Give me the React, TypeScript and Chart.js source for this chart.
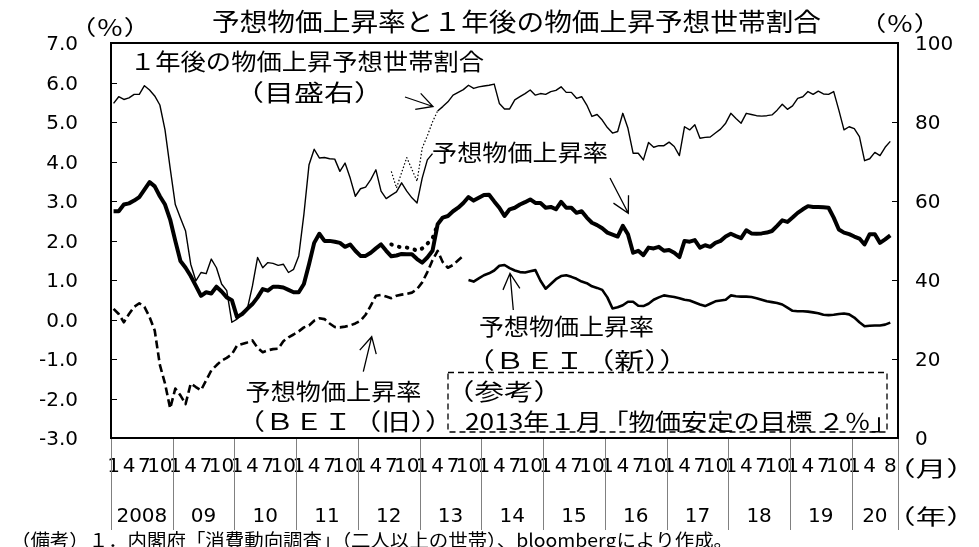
import React, { useEffect, useRef } from 'react';
import { Chart, registerables } from 'chart.js';

Chart.register(...registerables);

// ---------- categories ----------
const yearLabels = ['2008', '09', '10', '11', '12', '13', '14', '15', '16', '17', '18', '19', '20'];
const monthsPerYear = [12, 12, 12, 12, 12, 12, 12, 12, 12, 12, 12, 12, 9];
const monthTickLabels = ['1', '', '', '4', '', '', '7', '', '', '10', '', ''];
const monthTickLabels2020 = ['1', '', '', '4', '', '', '', '8', ''];

const categories: string[] = [];
const monthTicks: string[] = [];
yearLabels.forEach((_, k) => {
  for (let m = 0; m < monthsPerYear[k]; m++) {
    categories.push(`${2008 + k}/${m + 1}`);
    monthTicks.push(k === 12 ? monthTickLabels2020[m] : monthTickLabels[m]);
  }
});
const N = categories.length;

// ---------- series (start index, values) ----------
// 1年後の物価上昇予想世帯割合（右目盛, %）
const householdShareStart = 0;
const householdShare = [
  84.7, 86.4, 85.7, 86.1, 87.0, 87.0, 89.2, 88.1, 86.6, 84.3,
  78.0, 68.3, 59.1, 55.7, 52.4, 44.0, 39.8, 41.9, 41.6, 45.3,
  43.1, 39.0, 37.3, 29.3, 30.1, 31.4, 32.7, 38.5, 45.7, 43.1,
  44.4, 44.2, 43.7, 44.0, 41.9, 42.7, 46.1, 56.6, 69.2, 73.1,
  70.9, 71.0, 70.7, 70.6, 67.5, 69.6, 65.8, 61.2, 63.1, 63.5,
  65.4, 67.9, 62.5, 60.6, 61.5, 62.3, 64.6, 62.5, 60.8, 59.5,
  65.8, 70.4, 72.0,
];
const householdShareNewStart = 63;
const householdShareNew = [
  82.8, 83.9, 85.1, 86.8, 87.5, 88.2, 89.3, 88.5, 88.9, 89.1,
  89.3, 89.6, 84.7, 83.3, 83.3, 85.6, 86.4, 87.2, 88.1, 86.8,
  87.2, 87.0, 87.7, 88.0, 88.9, 87.5, 87.5, 86.0, 86.4, 84.3,
  81.4, 81.9, 80.5, 78.6, 77.2, 77.6, 82.2,
  78.4, 72.1, 72.1, 70.4, 74.8, 73.6, 74.0, 74.0, 74.9, 73.8,
  71.5, 78.8, 78.0, 79.3, 75.9, 76.1, 76.2, 77.2, 78.2, 79.7,
  82.2, 80.9, 79.7, 82.2, 81.9, 81.6, 81.5, 81.6, 81.8, 83.0,
  84.5, 83.2, 84.1, 86.0, 86.4, 87.7, 87.0, 87.8, 87.1, 87.0,
  87.7, 83.0, 78.0, 78.8, 78.3, 76.3, 70.2, 70.7, 72.3, 71.5,
  73.6, 75.1,
];
const householdShareAltStart = 54;
const householdShareAlt = [67.5, 63.3, 67.2, 71.0, 68.0, 65.0, 73.4, 76.5, 80.0, 82.8];

// 予想物価上昇率（左目盛, %）
const expectedInflationStart = 0;
const expectedInflation = [
  2.74, 2.74, 2.91, 2.94, 3.01, 3.10, 3.29, 3.48, 3.37, 3.12,
  2.91, 2.53, 1.99, 1.48, 1.31, 1.10, 0.85, 0.60, 0.69, 0.66,
  0.83, 0.71, 0.56, 0.49, 0.06, 0.14, 0.27, 0.39, 0.56, 0.77,
  0.73, 0.83, 0.83, 0.81, 0.75, 0.69, 0.69, 0.90, 1.40, 1.94,
  2.17, 1.99, 1.99, 1.97, 1.94, 1.84, 1.90, 1.74, 1.61, 1.61,
  1.69, 1.80, 1.90, 1.74, 1.60, 1.62, 1.66, 1.65, 1.65, 1.53,
  1.44, 1.57, 1.74,
  2.41, 2.58, 2.62, 2.74, 2.83, 2.95, 3.10, 3.01, 3.08, 3.15,
  3.16, 2.99, 2.83, 2.62, 2.79, 2.83, 2.91, 2.97, 3.04, 2.95,
  2.95, 2.83, 2.85, 2.79, 2.98, 2.83, 2.83, 2.70, 2.74, 2.58,
  2.45, 2.39, 2.31, 2.20, 2.15, 2.10, 2.37, 2.16, 1.69,
  1.74, 1.63, 1.82, 1.80, 1.84, 1.74, 1.76, 1.69, 1.58, 1.99,
  1.97, 2.01, 1.82, 1.88, 1.84, 1.94, 1.99, 2.10, 2.17, 2.11,
  2.06, 2.26, 2.18, 2.17, 2.18, 2.20, 2.24, 2.37, 2.51, 2.47,
  2.58, 2.70, 2.79, 2.87, 2.85, 2.85, 2.84, 2.83, 2.58, 2.28,
  2.20, 2.16, 2.10, 2.05, 1.90, 2.16, 2.16, 1.94, 2.03, 2.13,
];
const expectedInflationAltStart = 54;
const expectedInflationAlt = [1.90, 1.86, 1.82, 1.82, 1.80, 1.74, 1.80, 1.92, 2.05, 2.41];

// 予想物価上昇率（ＢＥＩ（旧））
const beiOldStart = 0;
const beiOld = [
  0.27, 0.14, -0.07, 0.14, 0.32, 0.41, 0.32, 0.06, -0.28, -1.15,
  -1.62, -2.25, -1.75, -1.92, -2.14, -1.62, -1.71, -1.79, -1.54, -1.29,
  -1.16, -1.04, -0.97, -0.88, -0.66, -0.62, -0.58, -0.53, -0.72, -0.83,
  -0.78, -0.75, -0.74, -0.55, -0.45, -0.38, -0.30, -0.20, -0.15, -0.03,
  0.03, 0.01, -0.10, -0.19, -0.20, -0.18, -0.15, -0.10, -0.03, 0.12,
  0.35, 0.60, 0.62, 0.58, 0.54, 0.60, 0.63, 0.65, 0.68, 0.77,
  0.94, 1.20, 1.50, 1.74, 1.45, 1.31, 1.38, 1.50, 1.61,
];
// 予想物価上昇率（ＢＥＩ（新））
const beiNewStart = 69;
const beiNew = [
  1.00, 0.96, 1.04, 1.12, 1.17, 1.24, 1.36, 1.38, 1.30, 1.24,
  1.20, 1.19, 1.22, 1.25, 0.98, 0.78, 0.90, 1.02, 1.10, 1.12,
  1.08, 1.03, 0.96, 0.92, 0.84, 0.80, 0.75, 0.56, 0.28, 0.31,
  0.36, 0.45, 0.45, 0.35, 0.34, 0.40, 0.50, 0.56, 0.61, 0.59,
  0.57, 0.54, 0.50, 0.48, 0.43, 0.38, 0.34, 0.40, 0.46, 0.48,
  0.50, 0.61, 0.59, 0.58, 0.58, 0.57, 0.54, 0.50, 0.46, 0.44,
  0.42, 0.38, 0.30, 0.22, 0.21, 0.21, 0.20, 0.18, 0.16, 0.12,
  0.11, 0.12, 0.14, 0.15, 0.13, 0.05, -0.07, -0.17, -0.16, -0.15,
  -0.15, -0.13, -0.08,
];

// axis ticks
const leftTicks = { min: -3, max: 7, step: 1 };
const rightTicks = { min: 0, max: 100, step: 20 };

function place(start: number, values: number[]) {
  const out: (number | null)[] = new Array(N).fill(null);
  values.forEach((v, i) => { out[start + i] = v; });
  return out;
}

// year spans for the two-level axis
const yearStarts: number[] = [];
const yearCenters: number[] = [];
{
  let s = 0;
  monthsPerYear.forEach((len) => {
    yearStarts.push(s);
    yearCenters.push(s + (len - 1) / 2);
    s += len;
  });
  yearStarts.push(s);
}

// ---------- annotations ----------
const JP = '"Noto Sans CJK JP", "Noto Sans CJK SC", sans-serif';
const notes = [
  { text: '予想物価上昇率と１年後の物価上昇予想世帯割合', x: 516.5, y: 21, size: 25, w: 609 },
  { text: '（％）', x: 110, y: 27, size: 21, w: 82 },
  { text: '（％）', x: 900, y: 23, size: 21, w: 82 },
  { text: '１年後の物価上昇予想世帯割合', x: 307, y: 61, size: 23, w: 354 },
  { text: '（目盛右）', x: 309, y: 92, size: 23, w: 150 },
  { text: '予想物価上昇率', x: 520, y: 152, size: 23, w: 176 },
  { text: '予想物価上昇率', x: 566.5, y: 326, size: 23, w: 175 },
  { text: '（ＢＥＩ（新））', x: 577, y: 360.5, size: 23, w: 224 },
  { text: '予想物価上昇率', x: 333.5, y: 391, size: 23, w: 176 },
  { text: '（ＢＥＩ（旧））', x: 345, y: 421, size: 23, w: 218 },
  { text: '（参考）', x: 504, y: 391, size: 23, w: 118 },
  { text: '2013年１月「物価安定の目標 ２％」', x: 681, y: 421, size: 23, w: 432 },
  { text: '（月）', x: 931, y: 468.5, size: 21, w: 92 },
  { text: '（年）', x: 931, y: 516.5, size: 21, w: 92 },
  { text: '（備考）１．内閣府「消費動向調査」（二人以上の世帯）、bloombergにより作成。', x: 372, y: 540, size: 18, w: 722 },
];
const arrows = [
  { from: [405, 97], to: [433, 106.5] },
  { from: [610, 178], to: [628.3, 213.3] },
  { from: [513.3, 310], to: [510, 273.3] },
  { from: [363.3, 371.7], to: [371.7, 336.7] },
];
const referenceBox = { x: 448, y: 372.5, w: 439, h: 59.5 };

const decorPlugin = {
  id: 'decor',
  afterDraw(chart: any) {
    const { ctx, chartArea: a, scales } = chart;
    const xs = scales.x;
    const half = (xs.getPixelForValue(1) - xs.getPixelForValue(0)) / 2;
    ctx.save();
    // year separators below the plot
    ctx.strokeStyle = '#808080';
    ctx.lineWidth = 1;
    yearStarts.forEach((b) => {
      const px = Math.round(xs.getPixelForValue(b) - half) + 0.5;
      ctx.beginPath();
      ctx.moveTo(px, a.bottom);
      ctx.lineTo(px, 530);
      ctx.stroke();
    });
    // inner tick marks
    ctx.strokeStyle = '#000';
    ctx.lineWidth = 1;
    scales.y.ticks.forEach((t: any) => {
      const py = Math.round(scales.y.getPixelForValue(t.value)) + 0.5;
      ctx.beginPath();
      ctx.moveTo(a.left, py);
      ctx.lineTo(a.left + 6, py);
      ctx.stroke();
    });
    scales.y2.ticks.forEach((t: any) => {
      const py = Math.round(scales.y2.getPixelForValue(t.value)) + 0.5;
      ctx.beginPath();
      ctx.moveTo(a.right - 6, py);
      ctx.lineTo(a.right, py);
      ctx.stroke();
    });
    // plot frame
    ctx.lineWidth = 2;
    ctx.strokeRect(a.left, a.top, a.right - a.left, a.bottom - a.top);
    // reference box
    ctx.lineWidth = 1.3;
    ctx.setLineDash([6, 4]);
    ctx.strokeRect(referenceBox.x, referenceBox.y, referenceBox.w, referenceBox.h);
    ctx.setLineDash([]);
    // arrows
    ctx.lineWidth = 1.3;
    arrows.forEach(({ from, to }) => {
      const ang = Math.atan2(from[1] - to[1], from[0] - to[0]);
      const L = 18, da = 0.49;
      ctx.beginPath();
      ctx.moveTo(from[0], from[1]);
      ctx.lineTo(to[0], to[1]);
      ctx.moveTo(to[0] + L * Math.cos(ang + da), to[1] + L * Math.sin(ang + da));
      ctx.lineTo(to[0], to[1]);
      ctx.lineTo(to[0] + L * Math.cos(ang - da), to[1] + L * Math.sin(ang - da));
      ctx.stroke();
    });
    // texts
    ctx.fillStyle = '#000';
    notes.forEach((n) => {
      ctx.save();
      ctx.font = `${n.size}px ${JP}`;
      const m = ctx.measureText(n.text).width;
      ctx.translate(n.x, n.y);
      ctx.scale(n.w / m, 1);
      ctx.textAlign = 'center';
      ctx.textBaseline = 'middle';
      ctx.fillText(n.text, 0, 0);
      ctx.restore();
    });
    ctx.restore();
  },
};

const NUM = '"DejaVu Sans", "Liberation Sans", sans-serif';

export default function App() {
  const ref = useRef<HTMLCanvasElement>(null);
  useEffect(() => {
    if (!ref.current) return;
    const line = (data: (number | null)[], axis: string, extra: any) => ({
      data,
      xAxisID: 'x',
      yAxisID: axis,
      borderColor: '#000',
      backgroundColor: '#000',
      pointRadius: 0,
      pointHoverRadius: 0,
      tension: 0,
      fill: false,
      spanGaps: false,
      borderJoinStyle: 'round',
      ...extra,
    });
    const chart = new Chart(ref.current, {
      type: 'line',
      data: {
        labels: categories,
        datasets: [
          line(place(householdShareStart, householdShare), 'y2', { label: '1年後の物価上昇予想世帯割合', borderWidth: 1.4 }),
          line(place(householdShareNewStart, householdShareNew), 'y2', { label: '1年後の物価上昇予想世帯割合（新）', borderWidth: 1.4 }),
          line(place(householdShareAltStart, householdShareAlt), 'y2', { label: '世帯割合（参考）', borderWidth: 1.2, borderDash: [1.5, 2] }),
          line(place(expectedInflationStart, expectedInflation), 'y', { label: '予想物価上昇率', borderWidth: 4 }),
          line(place(expectedInflationAltStart, expectedInflationAlt), 'y', { label: '予想物価上昇率（参考）', borderWidth: 4, borderDash: [0.5, 7.5], borderCapStyle: 'round' }),
          line(place(beiOldStart, beiOld), 'y', { label: 'BEI（旧）', borderWidth: 2.6, borderDash: [8, 4] }),
          line(place(beiNewStart, beiNew), 'y', { label: 'BEI（新）', borderWidth: 2.6 }),
        ],
      },
      options: {
        animation: false,
        responsive: false,
        devicePixelRatio: 1,
        events: [],
        layout: { padding: { top: 41, left: 0, right: 0, bottom: 0 } },
        plugins: { legend: { display: false }, tooltip: { enabled: false }, title: { display: false } },
        scales: {
          x: {
            type: 'category',
            position: 'bottom',
            offset: true,
            grid: { display: false, drawTicks: false },
            border: { display: false },
            ticks: {
              autoSkip: false,
              maxRotation: 0,
              minRotation: 0,
              padding: 19,
              color: '#000',
              font: { family: NUM, size: 20, lineHeight: 1 },
              callback: (_v: any, i: number) => monthTicks[i],
            },
            afterFit: (s: any) => { s.height = 56; },
          },
          x2: {
            type: 'linear',
            position: 'bottom',
            min: -0.5,
            max: N - 0.5,
            grid: { display: false, drawTicks: false },
            border: { display: false },
            afterBuildTicks: (s: any) => { s.ticks = yearCenters.map((v) => ({ value: v })); },
            ticks: {
              autoSkip: false,
              maxRotation: 0,
              minRotation: 0,
              padding: 13,
              color: '#000',
              font: { family: NUM, size: 20, lineHeight: 1 },
              callback: (_v: any, i: number) => yearLabels[i],
            },
            afterFit: (s: any) => { s.height = 53; },
          },
          y: {
            type: 'linear',
            position: 'left',
            min: leftTicks.min,
            max: leftTicks.max,
            grid: { display: false, drawTicks: false },
            border: { display: false },
            ticks: {
              stepSize: leftTicks.step,
              padding: 33,
              labelOffset: 2,
              color: '#000',
              font: { family: NUM, size: 20, lineHeight: 1 },
              callback: (v: any) => Number(v).toFixed(1),
            },
            afterFit: (s: any) => { s.width = 111; },
          },
          y2: {
            type: 'linear',
            position: 'right',
            min: rightTicks.min,
            max: rightTicks.max,
            grid: { display: false, drawTicks: false },
            border: { display: false },
            ticks: {
              stepSize: rightTicks.step,
              padding: 17,
              labelOffset: 2,
              color: '#000',
              font: { family: NUM, size: 20, lineHeight: 1 },
              callback: (v: any) => String(v),
            },
            afterFit: (s: any) => { s.width = 81; },
          },
        },
      } as any,
      plugins: [decorPlugin],
    });
    return () => chart.destroy();
  }, []);
  return (
    <div style={{ position: 'fixed', left: 0, top: 0, width: 979, height: 547, background: '#fff' }}>
      <canvas ref={ref} width={979} height={547} style={{ display: 'block', width: 979, height: 547 }} />
    </div>
  );
}
